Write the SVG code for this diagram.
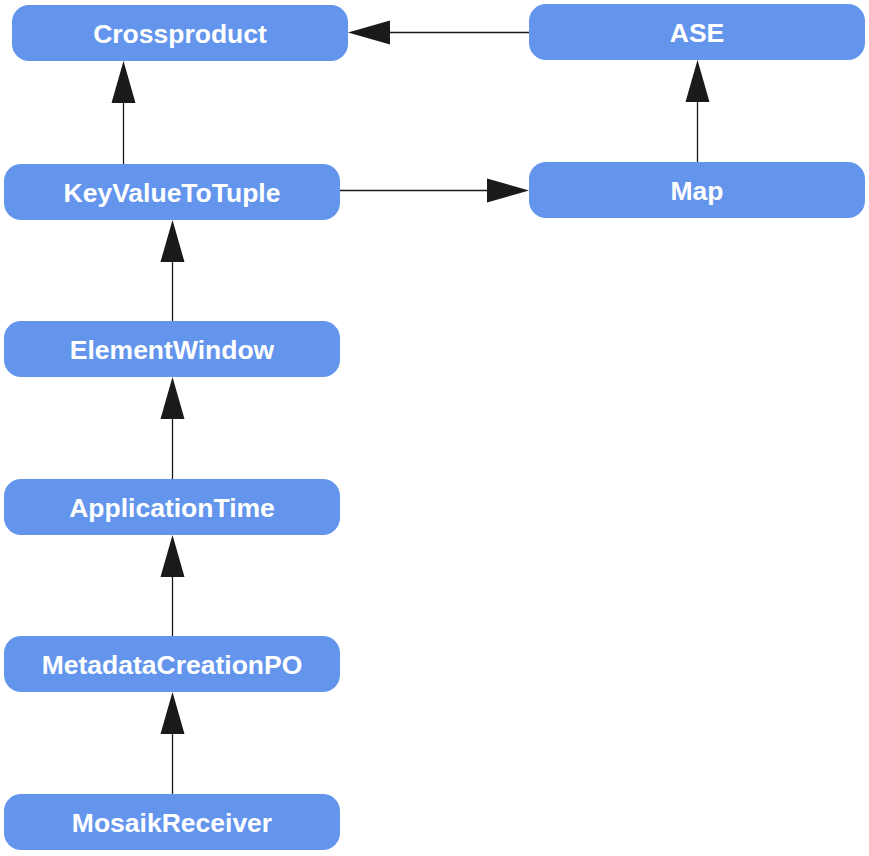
<svg xmlns="http://www.w3.org/2000/svg" width="869" height="856" viewBox="0 0 869 856">
<style>
.node rect{fill:#6495ED;}
.node text{fill:#ffffff;font-family:"Liberation Sans",Arial,sans-serif;font-weight:bold;font-size:26.5px;text-anchor:middle;}
.edge{stroke:#1a1a1a;stroke-width:1.3;fill:none;}
.head{fill:#1a1a1a;}
</style>
<rect width="869" height="856" fill="#ffffff"/>
<g id="connectors">
<line class="edge" x1="123.5" y1="164" x2="123.5" y2="100"/>
<polygon class="head" points="123.5,61 111.5,103 135.5,103"/>
<line class="edge" x1="529" y1="32.5" x2="385" y2="32.5"/>
<polygon class="head" points="348,32.5 390,20.5 390,44.5"/>
<line class="edge" x1="697.5" y1="162" x2="697.5" y2="100"/>
<polygon class="head" points="697.5,60 685.5,102 709.5,102"/>
<line class="edge" x1="340" y1="190.5" x2="492" y2="190.5"/>
<polygon class="head" points="529,190.5 487,178.5 487,202.5"/>
<line class="edge" x1="172.5" y1="321" x2="172.5" y2="258"/>
<polygon class="head" points="172.5,220 160.5,262 184.5,262"/>
<line class="edge" x1="172.5" y1="479" x2="172.5" y2="415"/>
<polygon class="head" points="172.5,377 160.5,419 184.5,419"/>
<line class="edge" x1="172.5" y1="636" x2="172.5" y2="573"/>
<polygon class="head" points="172.5,535 160.5,577 184.5,577"/>
<line class="edge" x1="172.5" y1="794" x2="172.5" y2="730"/>
<polygon class="head" points="172.5,692 160.5,734 184.5,734"/>
</g>
<g id="node-crossproduct" class="node"><rect x="12" y="5" width="336" height="56" rx="17"/><text x="180" y="42.5">Crossproduct</text></g>
<g id="node-ase" class="node"><rect x="529" y="4" width="336" height="56" rx="17"/><text x="697" y="41.5">ASE</text></g>
<g id="node-keyvaluetotuple" class="node"><rect x="4" y="164" width="336" height="56" rx="17"/><text x="172" y="201.5">KeyValueToTuple</text></g>
<g id="node-map" class="node"><rect x="529" y="162" width="336" height="56" rx="17"/><text x="697" y="199.5">Map</text></g>
<g id="node-elementwindow" class="node"><rect x="4" y="321" width="336" height="56" rx="17"/><text x="172" y="358.5">ElementWindow</text></g>
<g id="node-applicationtime" class="node"><rect x="4" y="479" width="336" height="56" rx="17"/><text x="172" y="516.5">ApplicationTime</text></g>
<g id="node-metadatacreationpo" class="node"><rect x="4" y="636" width="336" height="56" rx="17"/><text x="172" y="673.5">MetadataCreationPO</text></g>
<g id="node-mosaikreceiver" class="node"><rect x="4" y="794" width="336" height="56" rx="17"/><text x="172" y="831.5">MosaikReceiver</text></g>
</svg>
